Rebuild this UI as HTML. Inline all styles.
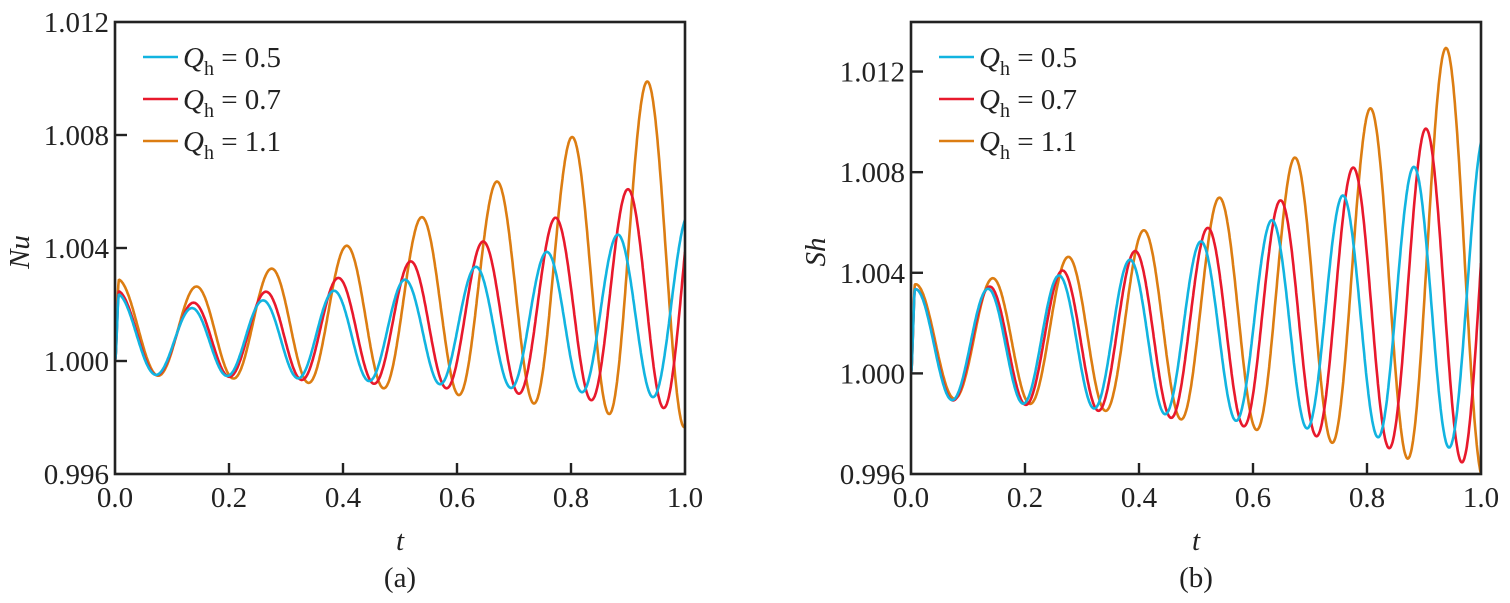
<!DOCTYPE html>
<html><head><meta charset="utf-8"><style>
body{margin:0;background:#fff;}
svg text{font-family:"Liberation Serif",serif;fill:#222;}
</style></head><body>
<svg id="s" width="1510" height="598" viewBox="0 0 1510 598" xmlns="http://www.w3.org/2000/svg"></svg>
<script>
const S=document.getElementById('s');
let h='';
function panel(x0,x1,y0,y1,vTop,vBot,ticks,yl,lab,tr,series){
  const X=t=>x0+(x1-x0)*t, Y=v=>y0+(y1-y0)*(vTop-v)/(vTop-vBot);
  h+=`<defs><clipPath id="c${x0}"><rect x="${x0}" y="${y0}" width="${x1-x0}" height="${y1-y0}"/></clipPath></defs>`;
  h+=`<g clip-path="url(#c${x0})">`;
  for(const s of series){
    let d='';
    for(let i=0;i<=1200;i++){
      const t=i/1200;
      const A=s.a*Math.exp(s.k*t)+tr*Math.exp(-t/0.035);
      const f=Math.min(1,t/0.007); const ff=f*f*(3-2*f);
      const v=1+ff*A*(s.r+Math.cos(2*Math.PI*(t-0.01)/s.P));
      d+=(i?'L':'M')+X(t).toFixed(1)+' '+Y(v).toFixed(1);
    }
    h+=`<path d="${d}" fill="none" stroke="${s.c}" stroke-width="2.6"/>`;
  }
  h+='</g>';
  h+=`<rect x="${x0}" y="${y0}" width="${x1-x0}" height="${y1-y0}" fill="none" stroke="#222" stroke-width="2.6"/>`;
  for(let i=0;i<=5;i++){const x=X(i/5);
    if(i>0&&i<5)h+=`<line x1="${x}" y1="${y1}" x2="${x}" y2="${y1-11}" stroke="#222" stroke-width="2.4"/>`;
    h+=`<text x="${x}" y="${y1+33}" font-size="29" text-anchor="middle">${(i/5).toFixed(1)}</text>`;}
  for(const v of ticks){const y=Y(v);
    if(y>y0+3&&y<y1-3)h+=`<line x1="${x0}" y1="${y}" x2="${x0+12}" y2="${y}" stroke="#222" stroke-width="2.4"/>`;
    h+=`<text x="${x0-6}" y="${y+10}" font-size="29" text-anchor="end">${v.toFixed(3)}</text>`;}
  h+=`<text x="${(x0+x1)/2}" y="${y1+76}" font-size="29" font-style="italic" text-anchor="middle">t</text>`;
  h+=`<text x="${(x0+x1)/2}" y="${y1+113}" font-size="29" text-anchor="middle">${lab}</text>`;
  h+=`<text transform="translate(${x0-86},${(y0+y1)/2+4}) rotate(-90)" font-size="29" font-style="italic" text-anchor="middle">${yl}</text>`;
  const L=[['0.5','#12b4e0'],['0.7','#e8192c'],['1.1','#dc7d12']];
  L.forEach((l,i)=>{const y=y0+35+i*42;
    h+=`<line x1="${x0+28}" y1="${y}" x2="${x0+63}" y2="${y}" stroke="${l[1]}" stroke-width="2.6"/>`;
    h+=`<text x="${x0+68}" y="${y+10}" font-size="29"><tspan font-style="italic">Q</tspan><tspan font-size="20" dy="8">h</tspan><tspan dy="-8"> = ${l[0]}</tspan></text>`;});
}
panel(115,685,22,474,1.012,0.996,[1.012,1.008,1.004,1.000,0.996],'Nu','(a)',0.0006,[
 {c:'#dc7d12',a:0.00125,k:1.68,r:0.65,P:0.1318},
 {c:'#e8192c',a:0.00105,k:1.43,r:0.6,P:0.127},
 {c:'#12b4e0',a:0.00100,k:1.18,r:0.58,P:0.1245}]);
panel(911,1481,22,474,1.01397,0.996,[1.012,1.008,1.004,1.000,0.996],'Sh','(b)',0.0004,[
 {c:'#dc7d12',a:0.00195,k:1.55,r:0.55,P:0.1325},
 {c:'#e8192c',a:0.0019,k:1.36,r:0.5,P:0.1275},
 {c:'#12b4e0',a:0.0019,k:1.2,r:0.5,P:0.1245}]);
S.innerHTML=h;
</script>
</body></html>
